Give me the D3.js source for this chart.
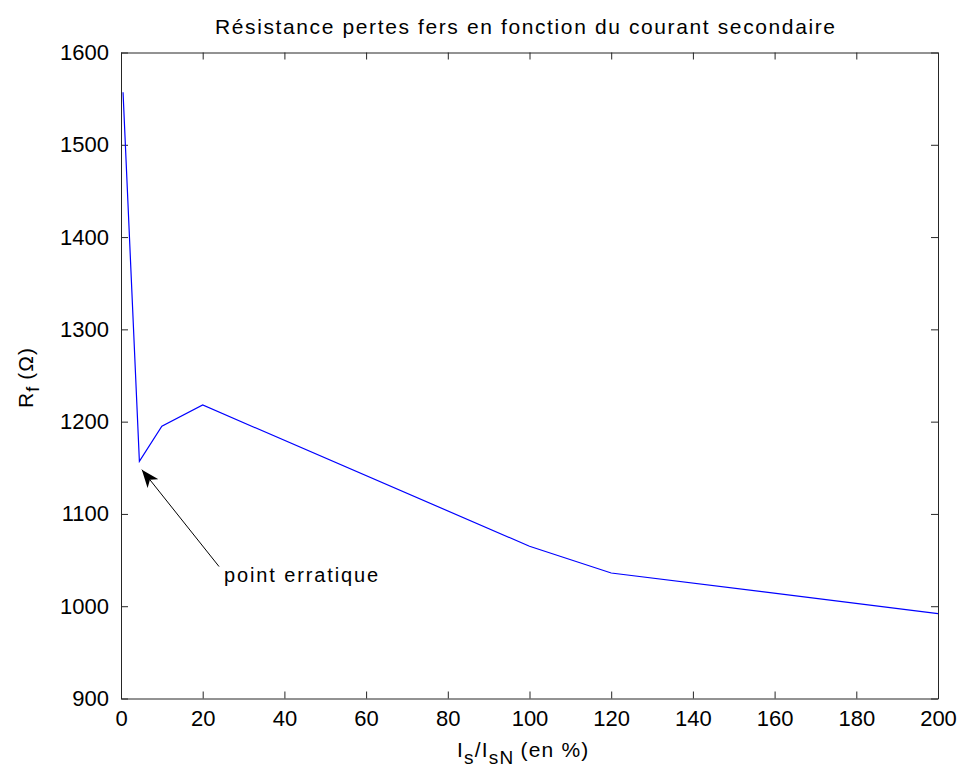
<!DOCTYPE html>
<html>
<head>
<meta charset="utf-8">
<script src="https://cdn.jsdelivr.net/npm/d3@7"></script>
<style>
  body { margin: 0; background: #fff; }
  svg text { font-family: "Liberation Sans", Arial, sans-serif; fill: #000; }
  .axis path, .axis line { stroke: #262626; }
</style>
</head>
<body>
<svg id="chart" width="964" height="776"></svg>
<script>
// courant secondaire (%) et resistance pertes fers (ohm)
var courant = [0.5, 4.5, 10, 20, 100, 120, 200];
var resistance = [1557, 1157, 1195, 1218, 1065, 1036, 992];
var xTicks = [0, 20, 40, 60, 80, 100, 120, 140, 160, 180, 200];
var yTicks = [900, 1000, 1100, 1200, 1300, 1400, 1500, 1600];
// annotation : pointe de la fleche, depart
var arrowTip = [5.1, 1148];
var arrowTail = [24, 1043];
var noteLabel = 'point erratique';

(function() {
    var svg = d3.select('#chart');
    var mLeft = 121, mRight = 938, mTop = 52.5, mBottom = 698.5;

    var x = d3.scaleLinear().domain([0, 200]).range([mLeft, mRight]);
    var y = d3.scaleLinear().domain([900, 1600]).range([mBottom, mTop]);

    // axes facon matlab : graduations vers l'interieur, cadre complet
    var xAxis = d3.axisBottom(x).tickValues(xTicks).tickFormat(d3.format('d'))
        .tickSizeInner(-7).tickSizeOuter(0).tickPadding(12);
    var yAxis = d3.axisLeft(y).tickValues(yTicks).tickFormat(d3.format('d'))
        .tickSizeInner(-7).tickSizeOuter(0).tickPadding(12);
    var xTop = d3.axisTop(x).tickValues(xTicks).tickSizeInner(-7).tickSizeOuter(0).tickFormat('');
    var yRight = d3.axisRight(y).tickValues(yTicks).tickSizeInner(-7).tickSizeOuter(0).tickFormat('');

    svg.append('g').attr('class', 'axis').attr('transform', 'translate(0,' + mBottom + ')').call(xAxis);
    svg.append('g').attr('class', 'axis').attr('transform', 'translate(' + mLeft + ',0)').call(yAxis);
    svg.append('g').attr('class', 'axis').attr('transform', 'translate(0,' + mTop + ')').call(xTop);
    svg.append('g').attr('class', 'axis').attr('transform', 'translate(' + mRight + ',0)').call(yRight);
    svg.selectAll('.axis text').style('font-size', '22px')
        .style('font-family', '"Liberation Sans", Arial, sans-serif')
        .style('fill', '#000');
    svg.selectAll('.axis path, .axis line').attr('stroke', '#262626');

    // courbe
    var line = d3.line()
        .x(function(d, i) { return x(courant[i]); })
        .y(function(d) { return y(d); });
    svg.append('path').datum(resistance)
        .attr('d', line)
        .attr('fill', 'none')
        .attr('stroke', '#0000ff')
        .attr('stroke-width', 1.2);

    // fleche
    svg.append('defs').append('marker')
        .attr('id', 'head').attr('viewBox', '0 0 18 14')
        .attr('refX', 18).attr('refY', 7)
        .attr('markerWidth', 18).attr('markerHeight', 14)
        .attr('markerUnits', 'userSpaceOnUse')
        .attr('orient', 'auto')
        .append('path').attr('d', 'M0,0 L18,7 L0,14 L5,7 Z').attr('fill', '#000');

    svg.append('line')
        .attr('x1', x(arrowTail[0])).attr('y1', y(arrowTail[1]))
        .attr('x2', x(arrowTip[0])).attr('y2', y(arrowTip[1]))
        .attr('stroke', '#000').attr('stroke-width', 1)
        .attr('marker-end', 'url(#head)');

    svg.append('text')
        .attr('x', x(arrowTail[0]) + 5).attr('y', y(arrowTail[1]) + 15)
        .attr('textLength', 154).attr('lengthAdjust', 'spacing')
        .style('font-size', '20px')
        .text(noteLabel);

    // titre
    svg.append('text')
        .attr('x', 525).attr('y', 34)
        .attr('text-anchor', 'middle')
        .attr('textLength', 620).attr('lengthAdjust', 'spacing')
        .style('font-size', '21px')
        .text('Résistance pertes fers en fonction du courant secondaire');

    // libelle x
    var xl = svg.append('text')
        .attr('x', 457).attr('y', 757)
        .style('font-size', '21px');
    xl.append('tspan').text('I');
    xl.append('tspan').attr('dy', 7).style('font-size', '19px').text('s');
    xl.append('tspan').attr('dy', -7).text('/I');
    xl.append('tspan').attr('dy', 7).style('font-size', '19px').text('sN');
    xl.append('tspan').attr('dy', -7).attr('dx', 6).text('(en %)');
    xl.style('letter-spacing', '1.2px');

    // libelle y
    var yl = svg.append('text')
        .attr('transform', 'translate(33,' + ((mTop + mBottom) / 2 + 2) + ') rotate(-90)')
        .attr('text-anchor', 'middle')
        .style('font-size', '21px')
        .style('letter-spacing', '1px');
    yl.append('tspan').text('R');
    yl.append('tspan').attr('dy', 6).style('font-size', '18px').text('f');
    yl.append('tspan').attr('dy', -6).attr('dx', 6).text('(Ω)');
})();
</script>
</body>
</html>
